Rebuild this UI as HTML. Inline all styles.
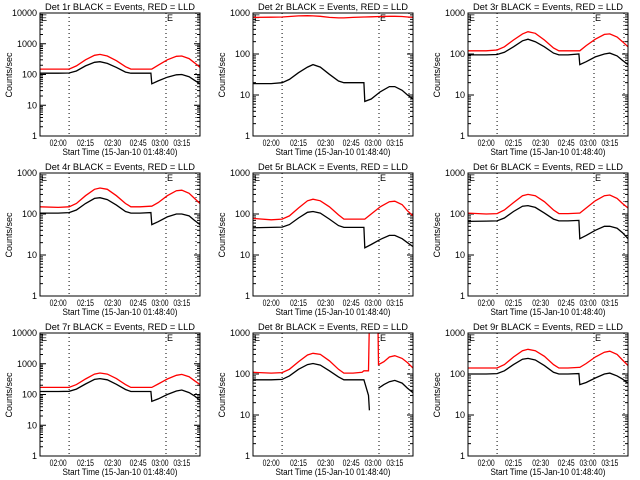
<!DOCTYPE html>
<html><head><meta charset="utf-8">
<style>
body{margin:0;background:#fff;}
svg{display:block;}
text{font-family:"Liberation Sans",sans-serif;font-size:9px;fill:#000;}
</style></head>
<body>
<svg id="chart" width="640" height="480" viewBox="0 0 640 480" xmlns="http://www.w3.org/2000/svg">
<rect x="0" y="0" width="640" height="480" fill="#fff"/>
</svg>
<script>
const detNames = ["1r","2r","3r","4r","5r","6r","7r","8r","9r"];
const yMaxDecades = [4,3,3,3,3,3,4,3,3];
const timesCommon = [0,10,16,20,25,30,33,37,42,47,50,55,61,61.5,65,70,75,78,82,85,88];
const times8 = [0,10,16,20,25,30,33,37,42,47,50,55,60,61,63.5,64,68.7,69,72,75,78,82,85,88];
const red1 = [150,150,150,190,300,420,450,400,280,180,150,150,150,150,200,300,390,400,330,240,170];
const blk1 = [110,110,112,130,190,250,260,230,170,120,110,110,110,50,62,82,98,100,85,65,50];
const red2 = [780,790,800,820,850,860,850,830,780,760,760,780,800,800,810,820,830,830,820,800,780];
const blk2 = [19,19,20,24,35,48,55,48,32,22,20,20,20,7,8,12,16,16,13,10,8];
const red3 = [120,120,125,150,220,310,350,320,220,140,120,120,120,120,160,230,300,310,260,200,150];
const blk3 = [95,95,97,110,150,210,230,200,150,105,95,95,100,55,65,85,100,105,90,70,55];
const red4 = [150,145,150,180,280,400,430,400,280,180,150,150,155,155,190,280,370,380,320,240,180];
const blk4 = [105,105,108,125,180,240,250,225,165,115,105,105,108,55,65,85,100,100,90,70,55];
const red5 = [78,72,75,90,140,210,230,210,150,95,75,75,75,75,100,150,200,205,170,120,90];
const blk5 = [46,47,48,55,80,110,115,105,75,52,47,47,47,15,18,24,30,30,25,20,16];
const red6 = [105,100,102,125,190,280,300,280,200,125,102,102,105,105,140,210,280,290,240,180,140];
const blk6 = [66,67,68,80,115,155,160,145,105,75,68,68,70,25,30,40,50,50,45,35,25];
const red7 = [170,170,170,210,320,460,500,460,330,210,170,170,170,170,220,320,420,450,380,280,210];
const blk7 = [125,125,127,150,220,310,330,300,215,145,125,125,125,60,72,100,130,140,115,90,65];
const red8 = [110,105,108,130,200,290,320,300,210,130,105,105,110,120,120,2000,2000,170,200,260,280,240,190,140];
const blk8 = [72,72,74,90,130,170,180,165,120,85,72,72,72,72,30,13,null,45,55,65,70,60,45,35];
const red9 = [140,140,140,170,260,370,400,370,270,170,140,140,145,145,180,260,340,360,300,220,160];
const blk9 = [100,100,102,120,170,230,240,220,160,110,100,100,102,55,62,80,100,105,90,75,60];
const redSeries = [red1,red2,red3,red4,red5,red6,red7,red8,red9];
const blackSeries = [blk1,blk2,blk3,blk4,blk5,blk6,blk7,blk8,blk9];
const xTickLabels = ["02:00","02:15","02:30","02:45","03:00","03:15"];
const xTickTimes = [10,25,40,54,66,78];
const dottedTimes = [16,69.3,85.8];
const T_MAX = 88;

const svg = document.getElementById('chart');
const NS = "http://www.w3.org/2000/svg";
function mk(tag, attrs, parent){
  const e = document.createElementNS(NS, tag);
  for (const k in attrs) e.setAttribute(k, attrs[k]);
  (parent||svg).appendChild(e);
  return e;
}

for (let p = 0; p < 9; p++) {
  const col = p % 3, row = Math.floor(p / 3);
  const ox = [0,213,428][col], oy = row * 160;
  const L = ox + 40, R = ox + 200, Tp = oy + 13, B = oy + 136;
  const dec = yMaxDecades[p];
  const xS = t => L + (t / T_MAX) * (R - L);
  const yS = v => B - (Math.log10(v) / dec) * (B - Tp);

  const g = mk('g', {});
  
  

  const cp = mk('clipPath', {id: 'clip' + p}, g);
  mk('rect', {x: L, y: Tp, width: R - L, height: B - Tp}, cp);

  const title = mk('text', {x: (L + R) / 2, y: oy + 10, 'text-anchor': 'middle', 'font-size': '10', textLength: 150, lengthAdjust: 'spacingAndGlyphs'}, g);
  title.textContent = 'Det ' + detNames[p] + ' BLACK = Events, RED = LLD';
  
  

  dottedTimes.forEach(t => {
    const l = mk('line', {x1: xS(t), x2: xS(t), y1: Tp, y2: B, stroke: '#000', 'stroke-width': 1, 'stroke-dasharray': '1,3'}, g);
    
    
  });

  [L + 1, xS(dottedTimes[1]) + 1].forEach(x => {
    const e = mk('text', {x: x, y: Tp + 8, 'font-size': '10'}, g);
    e.textContent = 'E';
    
    
  });

  for (let d = 0; d <= dec; d++) {
    const y = yS(Math.pow(10, d));
    mk('line', {x1: L, x2: L + 6, y1: y, y2: y, stroke: '#000'}, g);
    mk('line', {x1: R - 6, x2: R, y1: y, y2: y, stroke: '#000'}, g);
    const lab = mk('text', {x: L - 3, y: y + 3, 'text-anchor': 'end'}, g);
    lab.textContent = String(Math.pow(10, d));
    
    
    if (d < dec) for (let m = 2; m <= 9; m++) {
      const ym = yS(m * Math.pow(10, d));
      mk('line', {x1: L, x2: L + 3, y1: ym, y2: ym, stroke: '#000'}, g);
      mk('line', {x1: R - 3, x2: R, y1: ym, y2: ym, stroke: '#000'}, g);
    }
  }
  xTickLabels.forEach((s, i) => {
    const lab = mk('text', {x: xS(xTickTimes[i]), y: oy + 146, 'text-anchor': 'middle', 'font-size': '8', textLength: 17, lengthAdjust: 'spacingAndGlyphs'}, g);
    lab.textContent = s;
    
    
  });
  const xt = mk('text', {x: (L + R) / 2, y: oy + 155, 'text-anchor': 'middle', textLength: 115, lengthAdjust: 'spacingAndGlyphs'}, g);
  xt.textContent = 'Start Time (15-Jan-10 01:48:40)';
  
  
  const yt = mk('text', {x: 0, y: 0, 'text-anchor': 'middle', 'font-size': '8', transform: 'translate(' + (ox + 12) + ',' + (oy + 75) + ') rotate(-90)'}, g);
  yt.textContent = 'Counts/sec';
  
  

  const ts = (p === 7) ? times8 : timesCommon;
  [[redSeries[p], '#ff0000', 'red-lld-line'], [blackSeries[p], '#000000', 'black-events-line']].forEach(([vals, color, name]) => {
    let d = '', pen = false;
    vals.forEach((v, i) => {
      if (v === null) { pen = false; return; }
      d += (pen ? 'L' : 'M') + xS(ts[i]).toFixed(1) + ',' + yS(v).toFixed(1);
      pen = true;
    });
    const path = mk('path', {d: d, fill: 'none', stroke: color, 'stroke-width': 1.3, 'clip-path': 'url(#clip' + p + ')'}, g);
    
    
  });

  const frame = mk('rect', {x: L, y: Tp, width: R - L, height: B - Tp, fill: 'none', stroke: '#000', 'stroke-width': 1}, g);
  
  
}
</script>
</body></html>
